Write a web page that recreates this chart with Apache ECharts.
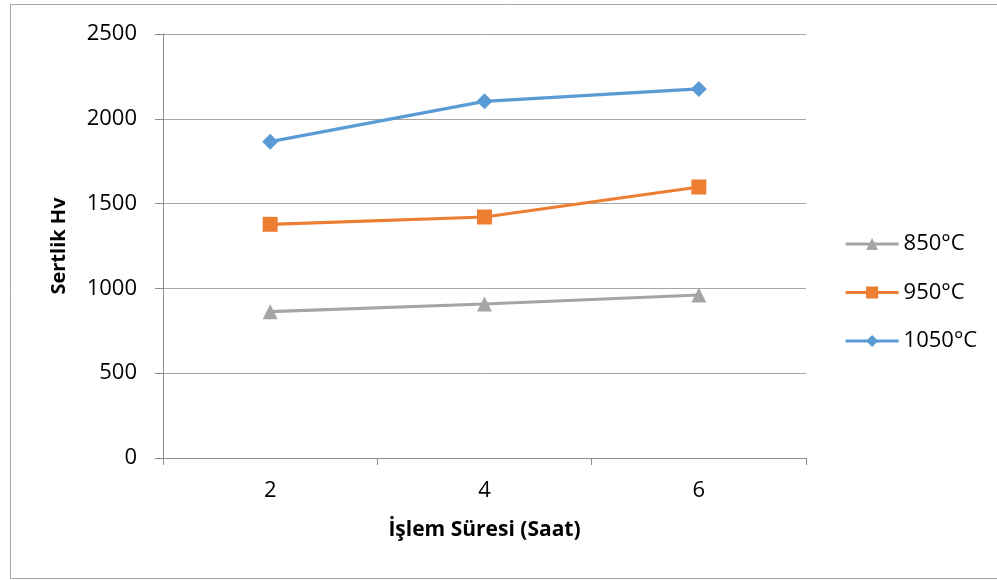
<!DOCTYPE html>
<html>
<head>
<meta charset="utf-8">
<script src="https://cdn.jsdelivr.net/npm/echarts@6/dist/echarts.min.js"></script>
<style>
  html, body { margin: 0; padding: 0; background: #fff; }
  #chart { width: 997px; height: 580px; }
</style>
</head>
<body>
<div id="chart"></div>
<script>
// Treatment time in hours
const categories = ['2', '4', '6'];
// Hardness (Hv) per treatment temperature
const series850 = [863, 908, 961];
const series950 = [1378, 1421, 1598];
const series1050 = [1865, 2103, 2176];
const seriesNames = ['850°C', '950°C', '1050°C'];
const yTicks = { min: 0, max: 2500, interval: 500 };

const FONT = '"Open Sans", "Noto Sans", sans-serif';
const chart = echarts.init(document.getElementById('chart'), null, { renderer: 'canvas' });

function lineSeries(name, data, color, symbol, size) {
  return {
    name: name,
    type: 'line',
    data: data,
    symbol: symbol,
    symbolSize: size,
    showAllSymbol: true,
    lineStyle: { color: color, width: 3.2 },
    itemStyle: { color: color },
    emphasis: { disabled: true },
    animation: false
  };
}

chart.setOption({
  backgroundColor: '#fff',
  graphic: [{
    type: 'rect',
    shape: { x: 10.5, y: 4.5, width: 1000, height: 574 },
    style: { fill: 'none', stroke: '#a6a6a6', lineWidth: 1 },
    silent: true
  }],
  grid: { left: 163, right: 191, top: 34, bottom: 122 },
  legend: {
    orient: 'vertical',
    left: 839,
    top: 228,
    itemWidth: 53,
    itemHeight: 15,
    itemGap: 26.5,
    lineStyle: { width: 3.2 },
    textStyle: { fontFamily: FONT, fontSize: 22, lineHeight: 22, color: '#000' },
    data: seriesNames
  },
  xAxis: {
    type: 'category',
    data: categories,
    boundaryGap: true,
    name: 'İşlem Süresi (Saat)',
    nameLocation: 'middle',
    nameGap: 62,
    nameTextStyle: { fontFamily: FONT, fontSize: 21, fontWeight: 'bold', color: '#000' },
    axisLine: { lineStyle: { color: '#8c8c8c', width: 1 } },
    axisTick: { show: true, length: 7, lineStyle: { color: '#8c8c8c' } },
    axisLabel: { fontFamily: FONT, fontSize: 22, color: '#000', margin: 22 },
    splitLine: { show: false }
  },
  yAxis: {
    type: 'value',
    min: yTicks.min,
    max: yTicks.max,
    interval: yTicks.interval,
    name: 'Sertlik Hv',
    nameLocation: 'middle',
    nameGap: 94,
    nameRotate: 90,
    nameTextStyle: { fontFamily: FONT, fontSize: 20, fontWeight: 'bold', color: '#000' },
    axisLine: { show: true, lineStyle: { color: '#8c8c8c', width: 1 } },
    axisTick: { show: true, length: 8, inside: false, lineStyle: { color: '#8c8c8c' } },
    axisLabel: {
      fontFamily: FONT, fontSize: 22, color: '#000', margin: 26,
      formatter: function (v) { return String(v); }
    },
    splitLine: { show: true, lineStyle: { color: '#a6a6a6', width: 1 } }
  },
  series: [
    lineSeries(seriesNames[0], series850, '#a5a5a5', 'triangle', 15),
    lineSeries(seriesNames[1], series950, '#ed7d31', 'rect', 15),
    lineSeries(seriesNames[2], series1050, '#5b9bd5', 'diamond', 16)
  ]
});
</script>
</body>
</html>
